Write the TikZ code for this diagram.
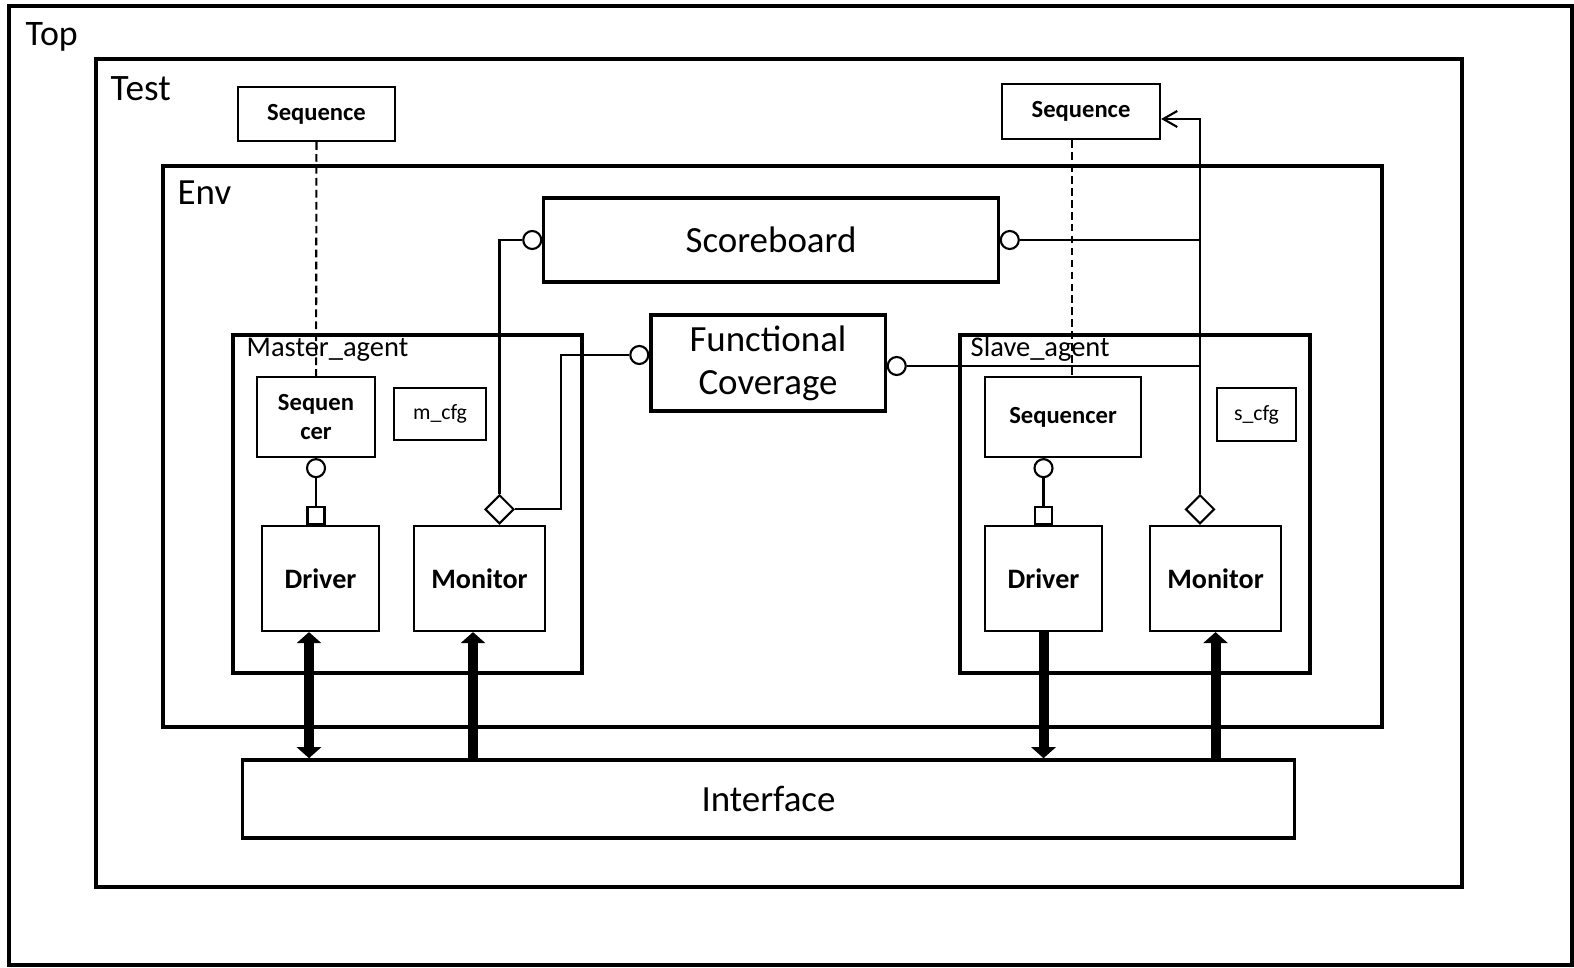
\documentclass[tikz,border=0pt]{standalone}
\usepackage{fontspec}
\setmainfont{Carlito}
\usepackage{tikz}
\usetikzlibrary{arrows.meta}
\usetikzlibrary{shapes.geometric}

\newcommand{\titlefont}{\fontsize{10.5}{12.2}\selectfont}
\newcommand{\agentfont}{\fontsize{8.1}{9.4}\selectfont}
\newcommand{\seqfont}{\bfseries\fontsize{7}{8.5}\selectfont}
\newcommand{\unitfont}{\bfseries\fontsize{8}{9.6}\selectfont}
\newcommand{\cfgfont}{\fontsize{6.2}{7.4}\selectfont}

\begin{document}
\begin{tikzpicture}[x=0.01cm, y=-0.01cm,
    >={Straight Barb[length=1.4mm,width=1.6mm]},
    frame/.style = {draw=black, line width=1.1pt},
    boxtitle/.style = {inner sep=0pt, anchor=base west},
    block/.style = {rectangle, draw=black, line width=0.9pt,
                    font=\titlefont, align=center, inner sep=0pt},
    unit/.style = {rectangle, draw=black, line width=0.6pt,
                   font=\unitfont, align=center, inner sep=0pt},
    seqbox/.style = {unit, font=\seqfont},
    cfgbox/.style = {unit, font=\cfgfont},
    plug/.style = {circle, draw=black, line width=0.6pt, fill=white,
                   inner sep=0pt, minimum size=0.18cm},
    sock/.style = {rectangle, draw=black, line width=0.6pt, fill=white,
                   inner sep=0pt, minimum size=0.17cm},
    tap/.style = {diamond, draw=black, line width=0.6pt, fill=white,
                  inner sep=0pt, minimum width=0.29cm, minimum height=0.29cm},
    wire/.style = {line width=0.6pt},
    link/.style = {wire, dash pattern=on 2.2pt off 1.2pt},
    bus/.style = {line width=0.1cm, >={Triangle[width=2.4mm,length=1.1mm]}}]
  \useasboundingbox (0,0) rectangle (1574,968);

  \draw[frame] (9,6) rectangle (1572,965);
  \draw[frame] (96,59) rectangle (1462,887);
  \draw[frame] (163,166) rectangle (1382,727);
  \draw[frame] (233,335) rectangle (582,673);
  \draw[frame] (960,335) rectangle (1310,673);

  \node (toptitle) [boxtitle, font=\fontsize{10.2}{12}\selectfont] at (25,46) {Top};
  \node (testtitle) [boxtitle, font=\fontsize{10.6}{12.5}\selectfont] at (110,101) {Test};
  \node (envtitle) [boxtitle, font=\titlefont] at (177,205) {Env};
  \node (mtitle) [boxtitle, font=\agentfont] at (246,357) {Master\_agent};
  \node (stitle) [boxtitle, font=\agentfont] at (970,357) {Slave\_agent};

  \node (seqA) [seqbox, minimum width=1.57cm, minimum height=0.54cm] at (316.5,114) {Sequence};
  \node (seqB) [seqbox, minimum width=1.58cm, minimum height=0.55cm] at (1081,111.5) {Sequence};
  \node (score) [block, minimum width=4.54cm, minimum height=0.84cm] at (771,240) {Scoreboard};
  \node (fcov) [block, minimum width=2.34cm, minimum height=0.96cm] at (768,363) {Functional\\Coverage};
  \node (mseqr) [seqbox, minimum width=1.18cm, minimum height=0.8cm] at (316,417) {Sequen\\cer};
  \node (mcfg) [cfgbox, minimum width=0.92cm, minimum height=0.52cm] at (440,414) {m\_cfg};
  \node (mdrv) [unit, minimum width=1.17cm, minimum height=1.05cm] at (320.5,578.5) {Driver};
  \node (mmon) [unit, minimum width=1.31cm, minimum height=1.05cm] at (479.5,578.5) {Monitor};
  \node (sseqr) [seqbox, minimum width=1.56cm, minimum height=0.8cm] at (1063,417) {Sequencer};
  \node (scfg) [cfgbox, minimum width=0.79cm, minimum height=0.53cm] at (1256.5,414.5) {s\_cfg};
  \node (sdrv) [unit, minimum width=1.17cm, minimum height=1.05cm] at (1043.5,578.5) {Driver};
  \node (smon) [unit, minimum width=1.31cm, minimum height=1.05cm] at (1215.5,578.5) {Monitor};
  \node (intf) [block, line width=1pt, minimum width=10.51cm, minimum height=0.78cm] at (768.5,799) {Interface};

  \node (mplug) [plug, anchor=north] at (mseqr.south) {};
  \node (msock) [sock, anchor=south] at (mseqr.south |- mdrv.north) {};
  \node (splug) [plug, anchor=north] at (sseqr.south -| sdrv.north) {};
  \node (ssock) [sock, anchor=south] at (sdrv.north) {};
  \node (mdia) [tap, anchor=south] at ([xshift=0.2cm]mmon.north) {};
  \node (sdia) [tap, anchor=south] at ([xshift=-0.155cm]smon.north) {};
  \node (sbl) [plug, anchor=east] at (score.west) {};
  \node (sbr) [plug, anchor=west] at (score.east) {};
  \node (fcl) [plug, anchor=east] at ([yshift=0.08cm]fcov.west) {};
  \node (fcr) [plug, anchor=west] at ([yshift=-0.03cm]fcov.east) {};

  \draw[link] (seqA) -- (mseqr);
  \draw[link] ([xshift=-0.09cm]seqB.south) -- ([xshift=-0.09cm]seqB.south |- sseqr.north);
  \draw[wire] (mplug) -- (msock);
  \draw[wire] (splug) -- (ssock);
  \draw[wire] (mdia) |- (sbl);
  \draw[wire] (mdia.east) -- ++(46,0) |- (fcl);
  \draw[wire] (sbr) -- (sbr -| sdia.north);
  \draw[wire] (fcr) -- (fcr -| sdia.north);
  \draw[wire,->] (sdia) |- ([yshift=-0.075cm]seqB.east);

  \draw[bus,<->] ([xshift=-0.115cm]mdrv.south) -- ([xshift=-0.115cm]mdrv.south |- intf.north);
  \draw[bus,->] ([xshift=-0.065cm]mmon.south |- intf.north) -- ([xshift=-0.065cm]mmon.south);
  \draw[bus,->] (sdrv.south) -- (sdrv.south |- intf.north);
  \draw[bus,->] (smon.south |- intf.north) -- (smon.south);
\end{tikzpicture}
\end{document}
